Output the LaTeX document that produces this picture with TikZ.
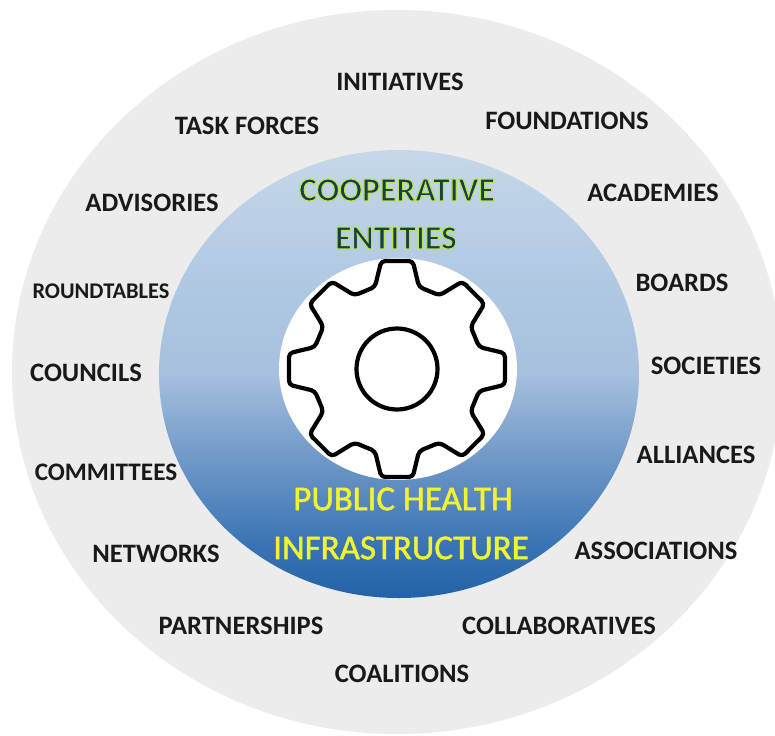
\documentclass[tikz,border=0pt]{standalone}
\usepackage{fontspec}
\setmainfont{Carlito}
\definecolor{blue1}{RGB}{34,98,168}
\definecolor{blue2}{RGB}{58,116,180}
\definecolor{blue3}{RGB}{108,150,198}
\definecolor{blue4}{RGB}{166,192,222}
\definecolor{blue5}{RGB}{178,202,227}
\definecolor{blue6}{RGB}{198,215,233}
\definecolor{ringgray}{RGB}{236,236,236}
\definecolor{entitygreen}{RGB}{18,66,66}
\definecolor{healthyellow}{RGB}{240,243,50}
\pgfdeclareverticalshading{discblue}{100bp}{
  color(0bp)=(blue1);
  color(25bp)=(blue1);
  color(31bp)=(blue2);
  color(40bp)=(blue3);
  color(50bp)=(blue4);
  color(62bp)=(blue5);
  color(75bp)=(blue6);
  color(100bp)=(blue6)}
\newcommand{\glowtext}[1]{\special{pdf:code q 2 Tr 1.2 w 0.75 0.87 0.35 RG}#1\special{pdf:code Q}}
\newcommand{\yellowtext}[1]{\special{pdf:code q 2 Tr 0.5 w 0.94 0.95 0.2 RG}#1\special{pdf:code Q}}
\tikzset{
  lab/.style={font=\fontsize{#1}{#1}\selectfont\bfseries,text=black!90,inner sep=0pt,anchor=center,yshift=-1pt},
  lab/.default=26.6,
  hub/.style={font=\fontsize{35}{35}\selectfont,inner sep=0pt,anchor=center,yshift=-1pt},
  hubbold/.style={font=\fontsize{33.6}{33.6}\selectfont\bfseries,inner sep=0pt,anchor=center,yshift=-1pt},
  gearline/.style={draw=black,line width=4.2pt,line join=round},
}
\begin{document}
\begin{tikzpicture}[x=1pt,y=-1pt]
\useasboundingbox (0,0) rectangle (775,735);
\clip (0,0) rectangle (775,735);
\fill[white] (0,0) rectangle (775,735);
\fill[ringgray] (397,372) ellipse [x radius=385,y radius=362];
\shade[shading=discblue] (399,374) ellipse [x radius=240,y radius=224];
\fill[white] (398,369) ellipse [x radius=119,y radius=111];
\draw[gearline,fill=white,rounded corners=4pt]
  ([shift={(397,369)}]0:108)
  \foreach \a in {0,45,...,315} {
    -- ([shift={(397,369)}]\a+8.3:109.2)
    -- ([shift={(397,369)}]\a+15:85)
    -- ([shift={(397,369)}]\a+30:85)
    -- ([shift={(397,369)}]\a+36.7:109.2)
    -- ([shift={(397,369)}]\a+45:108)
  } -- cycle;
\draw[gearline] (397,369) circle [radius=40.5];
\node[lab] (initiatives) at (400,81) {INITIATIVES};
\node[lab] (taskforces) at (247,125) {TASK FORCES};
\node[lab] (foundations) at (567,120) {FOUNDATIONS};
\node[lab] (advisories) at (152,202) {ADVISORIES};
\node[lab] (academies) at (653,192) {ACADEMIES};
\node[lab=22.4] (roundtables) at (101,290) {ROUNDTABLES};
\node[lab] (boards) at (682,282) {BOARDS};
\node[lab] (councils) at (86,372) {COUNCILS};
\node[lab] (societies) at (706,365) {SOCIETIES};
\node[lab=25.2] (committees) at (106,471) {COMMITTEES};
\node[lab] (alliances) at (696,454) {ALLIANCES};
\node[lab] (networks) at (156,553) {NETWORKS};
\node[lab] (associations) at (656,550) {ASSOCIATIONS};
\node[lab] (partnerships) at (241,625) {PARTNERSHIPS};
\node[lab] (collaboratives) at (559,625) {COLLABORATIVES};
\node[lab] (coalitions) at (402,673) {COALITIONS};
\node[hubbold,text=entitygreen] (cooperative) at (397,189) {\glowtext{COOPERATIVE}};
\node[hubbold,text=entitygreen] (entities) at (396,237) {\glowtext{ENTITIES}};
\node[hub,text=healthyellow] (health) at (403,498) {\yellowtext{PUBLIC HEALTH}};
\node[hub,text=healthyellow] (infra) at (401,547) {\yellowtext{INFRASTRUCTURE}};
\end{tikzpicture}
\end{document}
